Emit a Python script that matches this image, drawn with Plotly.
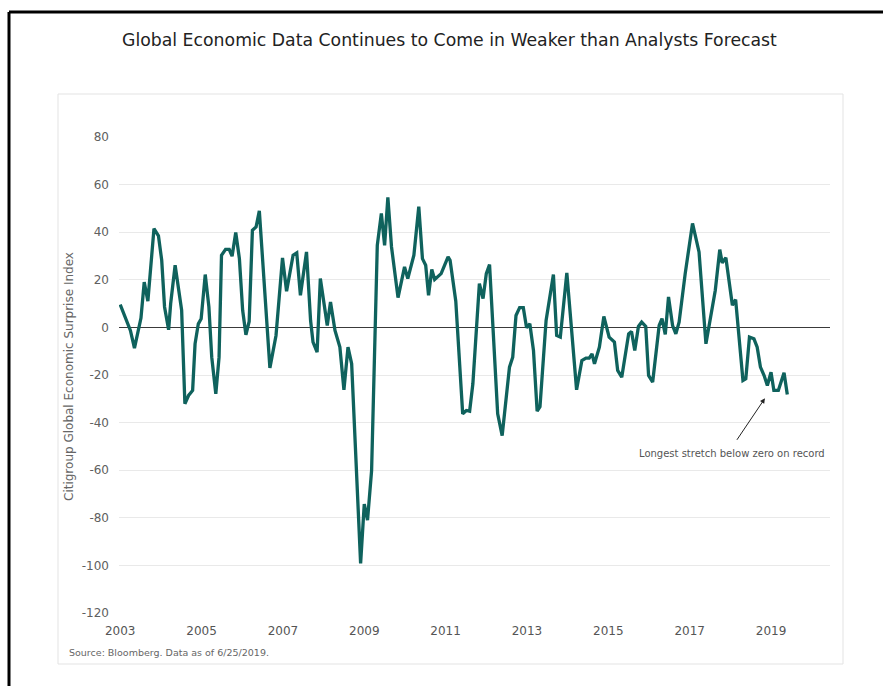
import plotly.graph_objects as go

# Decimal-year positions and index values
years = [
    2003.00, 2003.25, 2003.35, 2003.51, 2003.59, 2003.68, 2003.83, 2003.94, 2004.02, 2004.09,
    2004.19, 2004.24, 2004.35, 2004.51, 2004.59, 2004.68, 2004.78, 2004.84, 2004.92, 2004.99,
    2005.09, 2005.18, 2005.25, 2005.35, 2005.43, 2005.49, 2005.59, 2005.68, 2005.75, 2005.84,
    2005.93, 2006.01, 2006.09, 2006.17, 2006.25, 2006.34, 2006.42, 2006.56, 2006.68, 2006.83,
    2006.99, 2007.09, 2007.25, 2007.34, 2007.43, 2007.58, 2007.68, 2007.74, 2007.84, 2007.92,
    2008.09, 2008.17, 2008.28, 2008.40, 2008.50, 2008.60, 2008.69, 2008.91, 2009.00, 2009.08,
    2009.18, 2009.32, 2009.42, 2009.50, 2009.58, 2009.67, 2009.83, 2009.99, 2010.07, 2010.22,
    2010.34, 2010.43, 2010.51, 2010.58, 2010.66, 2010.73, 2010.89, 2011.06, 2011.11, 2011.25,
    2011.42, 2011.51, 2011.59, 2011.67, 2011.83, 2011.92, 2012.00, 2012.08, 2012.28, 2012.39,
    2012.57, 2012.65, 2012.73, 2012.82, 2012.91, 2012.99, 2013.07, 2013.16, 2013.25, 2013.32,
    2013.47, 2013.65, 2013.73, 2013.82, 2013.98, 2014.22, 2014.35, 2014.45, 2014.53, 2014.60,
    2014.66, 2014.78, 2014.89, 2015.02, 2015.15, 2015.23, 2015.33, 2015.50, 2015.57, 2015.65,
    2015.74, 2015.82, 2015.92, 2015.99, 2016.09, 2016.25, 2016.32, 2016.40, 2016.48, 2016.58,
    2016.66, 2016.74, 2016.89, 2017.07, 2017.23, 2017.40, 2017.63, 2017.74, 2017.80, 2017.89,
    2018.05, 2018.13, 2018.31, 2018.38, 2018.47, 2018.58, 2018.66, 2018.74, 2018.83, 2018.91,
    2019.00, 2019.07, 2019.18, 2019.32, 2019.40,
]
surprise_index = [
    9.6, -1.3, -8.7, 3.9, 19.0, 11.0, 41.5, 38.5, 28.2, 8.6,
    -1.0, 10.0, 26.1, 7.2, -32.1, -28.6, -26.5, -6.9, 1.5, 3.6,
    22.2, 8.6, -12.5, -27.9, -12.5, 30.3, 32.8, 32.8, 29.9, 39.9,
    28.9, 7.2, -3.1, 2.5, 40.8, 42.2, 49.0, 12.8, -17.0, -3.4,
    29.2, 15.2, 30.3, 31.3, 13.5, 31.7, 2.9, -6.2, -10.4, 20.5,
    0.8, 10.7, -1.3, -8.3, -26.2, -8.3, -15.3, -99.2, -74.2, -81.0,
    -60.2, 34.5, 47.9, 34.5, 54.6, 33.8, 12.5, 25.4, 20.5, 30.3,
    50.7, 28.9, 26.1, 13.5, 24.3, 20.1, 22.6, 29.6, 28.2, 11.0,
    -36.3, -34.9, -35.2, -23.7, 18.4, 12.1, 22.6, 26.4, -36.3, -45.5,
    -16.7, -12.5, 5.0, 8.3, 8.3, -0.1, 1.5, -9.7, -35.2, -33.3,
    2.9, 22.2, -3.4, -4.1, 22.9, -26.2, -13.9, -12.9, -12.9, -11.1,
    -15.3, -8.3, 4.6, -4.1, -6.2, -18.1, -20.9, -2.7, -1.7, -9.7,
    0.4, 2.2, 0.4, -20.2, -23.0, 0.8, 3.7, -2.9, 12.8, 0.8,
    -2.7, 2.2, 22.6, 43.7, 31.7, -6.9, 15.6, 32.7, 27.1, 29.3,
    9.3, 11.7, -22.3, -21.6, -4.1, -4.8, -8.3, -16.7, -20.2, -24.4,
    -18.8, -26.5, -26.5, -19.1, -28.2,
]
x_ticks = [2003, 2005, 2007, 2009, 2011, 2013, 2015, 2017, 2019]
y_ticks = [80, 60, 40, 20, 0, -20, -40, -60, -80, -100, -120]

title_text = "Global Economic Data Continues to Come in Weaker than Analysts Forecast"
y_title = "Citigroup Global Economic Surprise Index"
source_text = "Source: Bloomberg. Data as of 6/25/2019."
note_text = "Longest stretch below zero on record"
note_point = (2018.85, -29.8)

W, H = 883, 686
ML, MR, MT, MB = 119, 53, 137, 73
PW, PH = W - ML - MR, H - MT - MB


def px(xp):
    return (xp - ML) / PW


def py(yp):
    return (H - MB - yp) / PH


FONT = "DejaVu Sans"
LINE_COLOR = "#0f625d"

fig = go.Figure()
fig.add_trace(go.Scatter(
    x=years, y=surprise_index, mode="lines",
    line=dict(color=LINE_COLOR, width=3.3),
    hoverinfo="x+y", showlegend=False,
))

fig.update_layout(
    width=W, height=H,
    margin=dict(l=ML, r=MR, t=MT, b=MB),
    paper_bgcolor="white", plot_bgcolor="white",
    font=dict(family=FONT, color="#555555"),
    xaxis=dict(
        range=[2002.97, 2020.45], tickvals=x_ticks, ticktext=[str(t) for t in x_ticks],
        showgrid=False, zeroline=False, showline=False, ticks="",
        tickfont=dict(size=12, color="#555555"), ticklabelstandoff=9,
    ),
    yaxis=dict(
        range=[-120, 80], tickvals=y_ticks, ticktext=[str(t) for t in y_ticks],
        showgrid=True, gridcolor="#e9e9e9", gridwidth=1,
        zeroline=True, zerolinecolor="#3a3a3a", zerolinewidth=1,
        showline=False, ticks="", tickfont=dict(size=12, color="#606060"),
        ticklabelstandoff=9,
    ),
    shapes=[
        # inner light frame
        dict(type="rect", xref="paper", yref="paper",
             x0=px(58), x1=px(843), y0=py(664), y1=py(94),
             line=dict(color="#e3e3e3", width=1), layer="below"),
        # outer black frame (left and top edges)
        dict(type="line", xref="paper", yref="paper",
             x0=px(9), x1=px(9), y0=py(686), y1=py(12),
             line=dict(color="black", width=3)),
        dict(type="line", xref="paper", yref="paper",
             x0=px(9), x1=px(883), y0=py(12), y1=py(12),
             line=dict(color="black", width=3)),
    ],
    annotations=[
        dict(text=title_text, xref="paper", yref="paper", x=px(449), y=py(40),
             showarrow=False, xanchor="center", yanchor="middle",
             font=dict(size=17.3, color="#222222", family=FONT)),
        dict(text=y_title, xref="paper", yref="paper", x=px(69), y=py(377),
             showarrow=False, textangle=-90, xanchor="center", yanchor="middle",
             font=dict(size=12, color="#666666", family=FONT)),
        dict(text=source_text, xref="paper", yref="paper", x=px(67), y=py(652),
             showarrow=False, xanchor="left", yanchor="middle",
             font=dict(size=9.5, color="#666666", family=FONT)),
        dict(text=note_text, xref="paper", yref="paper", x=px(732), y=py(453),
             showarrow=False, xanchor="center", yanchor="middle",
             font=dict(size=10, color="#555555", family=FONT)),
        dict(text="", x=note_point[0], y=note_point[1], xref="x", yref="y",
             showarrow=True, arrowhead=2, arrowsize=1, arrowwidth=1,
             arrowcolor="#222222", ax=-29, ay=43),
    ],
)

fig.write_html(
    "out.html",
    config={"displayModeBar": False},
    post_script="document.body.style.margin='0';document.body.style.padding='0';"
                "document.body.style.overflow='hidden';",
)
